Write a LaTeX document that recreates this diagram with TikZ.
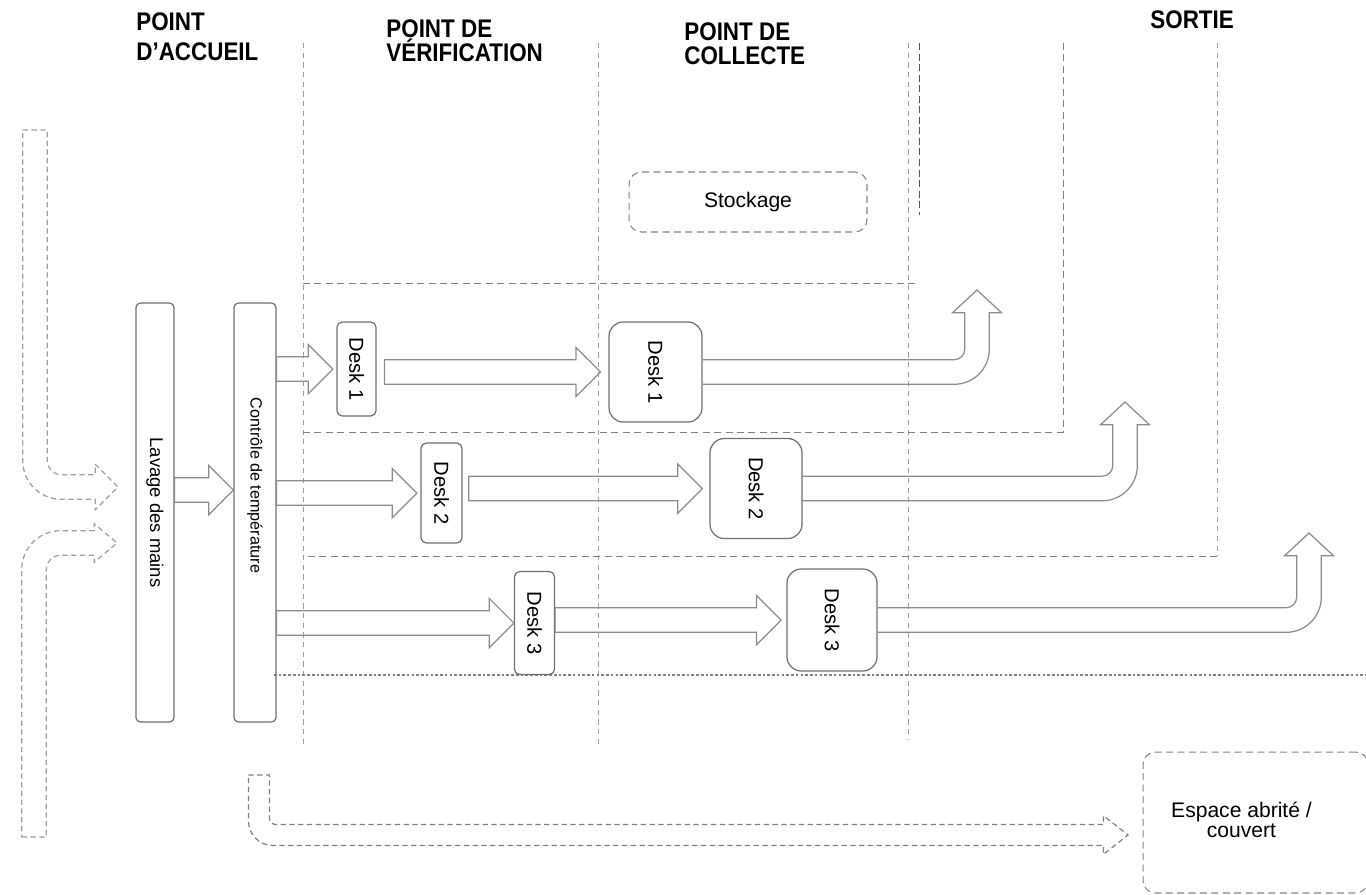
\documentclass[tikz,border=0pt]{standalone}
\usepackage{fontspec}
\setmainfont{Liberation Sans}
\newfontfamily\headfont[FakeStretch=0.88]{Liberation Sans}
\usepackage{graphicx}
\usetikzlibrary{calc}
\definecolor{boxgray}{RGB}{112,112,112}
\definecolor{arrgray}{RGB}{140,140,140}
\definecolor{lanegray}{RGB}{150,158,166}
\definecolor{laneblue}{RGB}{70,88,108}
\definecolor{waitgray}{RGB}{160,160,160}

% hollow block arrow: start point, tip point (shaft at the height of the tip)
\newcommand{\blockarrow}[2]{%
  \draw[blockarr] let \p1=#1, \p2=#2 in
    (\x1,\y2+7pt) -- (\x2-14pt,\y2+7pt) -- (\x2-14pt,\y2+14pt) -- (\x2,\y2)
    -- (\x2-14pt,\y2-14pt) -- (\x2-14pt,\y2-7pt) -- (\x1,\y2-7pt) -- cycle;}
% hollow arrow going right, then turning up to the exit
\newcommand{\exitarrow}[2]{%
  \draw[blockarr] let \p1=#1, \p2=#2 in
    (\x1,\y1+7pt) -- (\x2-13pt,\y1+7pt)
    arc[start angle=270, end angle=360, radius=6pt] -- (\x2-7pt,\y2-13pt)
    -- (\x2-14pt,\y2-13pt) -- (\x2,\y2) -- (\x2+14pt,\y2-13pt) -- (\x2+7pt,\y2-13pt)
    -- (\x2+7pt,\y1+13pt) arc[start angle=0, end angle=-90, radius=20pt]
    -- (\x1,\y1-7pt);}

\begin{document}
\begin{tikzpicture}[
    x=0.02cm, y=-0.02cm,
    zonehead/.style={anchor=north west, inner sep=0pt, align=left,
                     font=\headfont\fontsize{14.5}{14}\selectfont\bfseries},
    station/.style={rectangle, rounded corners=2.5pt, draw=boxgray, line width=0.7pt,
                    minimum width=0.76cm, minimum height=8.38cm, inner sep=0pt},
    deskbox/.style={rectangle, rounded corners=3pt, draw=boxgray, line width=0.7pt,
                    inner sep=0pt, font=\fontsize{11.5}{12}\selectfont},
    collbox/.style={deskbox, rounded corners=8pt, minimum width=1.84cm, minimum height=2cm},
    zonebox/.style={rectangle, rounded corners=7pt, draw=boxgray!85, line width=0.6pt,
                    dash pattern=on 4pt off 2.5pt, font=\fontsize{12}{11}\selectfont},
    lane/.style={lanegray, line width=0.5pt, dash pattern=on 3pt off 2.5pt},
    rowline/.style={gray, line width=0.5pt, dash pattern=on 4pt off 2.5pt},
    blockarr/.style={draw=arrgray, line width=0.7pt},
    waitarr/.style={draw=waitgray, line width=0.7pt, dash pattern=on 3pt off 2pt},
]
\useasboundingbox (0,0) rectangle (1366,894);

% zone headings
\node[zonehead, font=\headfont\fontsize{14.5}{17}\selectfont\bfseries] (zacc) at (136,12) {POINT\\D’ACCUEIL};
\node[zonehead] (zver) at (386,19) {POINT DE\\VÉRIFICATION};
\node[zonehead] (zcol) at (684,22) {POINT DE\\COLLECTE};
\node[zonehead] (zout) at (1150,10) {SORTIE};

% lanes
\draw[lane] (303,43) -- (303,745);
\draw[lane] (598,43) -- (598,745);
\draw[lane] (908,43) -- (908,740);
\draw[lane, laneblue, dash pattern=on 4pt off 2pt] (919,43) -- (919,215);
\draw[rowline] (1063,43) -- (1063,432) -- (303,432);
\draw[lane] (1217,43) -- (1217,556);
\draw[rowline] (1217,556) -- (303,556);
\draw[rowline] (303,283) -- (916,283);
\draw[gray, line width=0.8pt, dash pattern=on 1.5pt off 1.2pt] (274,675) -- (1366,675);

% stations
\node[station] (lav) at (155,512.5)
  {\rotatebox{-90}{\fontsize{10.5}{12}\selectfont Lavage des mains}};
\node[station, minimum width=0.84cm] (ctrl) at (255,512.5)
  {\rotatebox{-90}{\fontsize{9.2}{11}\selectfont Contrôle de température\hspace{1.08cm}}};

\node[deskbox, minimum width=0.78cm, minimum height=1.88cm] (d1) at (356.5,369) {\rotatebox{-90}{Desk 1}};
\node[deskbox, minimum width=0.82cm, minimum height=2cm] (d2) at (441.5,493) {\rotatebox{-90}{Desk 2}};
\node[deskbox, minimum width=0.8cm, minimum height=2.06cm] (d3) at (534.5,623) {\rotatebox{-90}{Desk 3}};

\node[collbox, minimum width=1.86cm] (c1) at (655.5,372) {\rotatebox{-90}{Desk 1}};
\node[collbox] (c2) at (756,488.5) {\rotatebox{-90}{Desk 2}};
\node[collbox, minimum width=1.8cm, minimum height=2.04cm] (c3) at (832,620) {\rotatebox{-90}{Desk 3}};

\node[zonebox, minimum width=4.76cm, minimum height=1.2cm] (stock) at (748,202) {Stockage};
\node[zonebox, minimum width=4.5cm, minimum height=2.82cm] (abri) at (1255.5,822.5)
  {\begin{tabular}{@{}c@{}}Espace abrité /\\couvert\end{tabular}\kern0.56cm\relax};

% flows
\blockarrow{(lav.east)}{([yshift=12.8pt]ctrl.west)}
\blockarrow{(ctrl.east)}{([xshift=-2pt]d1.west)}
\blockarrow{(ctrl.east)}{([xshift=-2pt]d2.west)}
\blockarrow{(ctrl.east)}{(d3.west)}
\blockarrow{([xshift=4.5pt]d1.east)}{([xshift=-4.5pt]c1.west)}
\blockarrow{([xshift=3.5pt]d2.east)}{([xshift=-4pt]c2.west)}
\blockarrow{(d3.east)}{([xshift=-3pt]c3.west)}

\coordinate (exit1) at (977,290);
\coordinate (exit2) at (1125,402);
\coordinate (exit3) at (1309,533);
\exitarrow{(c1.east)}{(exit1)}
\exitarrow{(c2.east)}{(exit2)}
\exitarrow{(c3.east)}{(exit3)}

% queues (dashed)
\coordinate (in1) at (35,130);
\coordinate (in1tip) at (118,487);
\coordinate (in2) at (34,837);
\coordinate (in2tip) at (117,543);
\coordinate (out) at (259,775);
\coordinate (outtip) at (1128,835);

\draw[waitarr] let \p1=(in1), \p2=(in1tip) in
  (\x1-7pt,\y1) -- (\x1+7pt,\y1) -- (\x1+7pt,\y2+15pt)
  arc[start angle=180, end angle=270, radius=8pt] -- (\x2-13pt,\y2+7pt)
  -- (\x2-13pt,\y2+13pt) -- (\x2,\y2) -- (\x2-13pt,\y2-13pt) -- (\x2-13pt,\y2-7pt)
  -- (\x1+15pt,\y2-7pt) arc[start angle=270, end angle=180, radius=22pt] -- cycle;
\draw[waitarr] let \p1=(in2), \p2=(in2tip) in
  (\x1-7pt,\y1) -- (\x1+7pt,\y1) -- (\x1+7pt,\y2-15pt)
  arc[start angle=180, end angle=90, radius=8pt] -- (\x2-13pt,\y2-7pt)
  -- (\x2-13pt,\y2-11pt) -- (\x2,\y2) -- (\x2-13pt,\y2+11pt) -- (\x2-13pt,\y2+7pt)
  -- (\x1+15pt,\y2+7pt) arc[start angle=90, end angle=180, radius=22pt] -- cycle;
\draw[waitarr, draw=gray] let \p1=(out), \p2=(outtip) in
  (\x1-6pt,\y1) -- (\x1+6pt,\y1) -- (\x1+6pt,\y2+9pt)
  arc[start angle=180, end angle=270, radius=3pt] -- (\x2-14pt,\y2+6pt)
  -- (\x2-14pt,\y2+11pt) -- (\x2,\y2) -- (\x2-14pt,\y2-11pt) -- (\x2-14pt,\y2-6pt)
  -- (\x1+8pt,\y2-6pt) arc[start angle=270, end angle=180, radius=14pt] -- cycle;

\end{tikzpicture}
\end{document}
